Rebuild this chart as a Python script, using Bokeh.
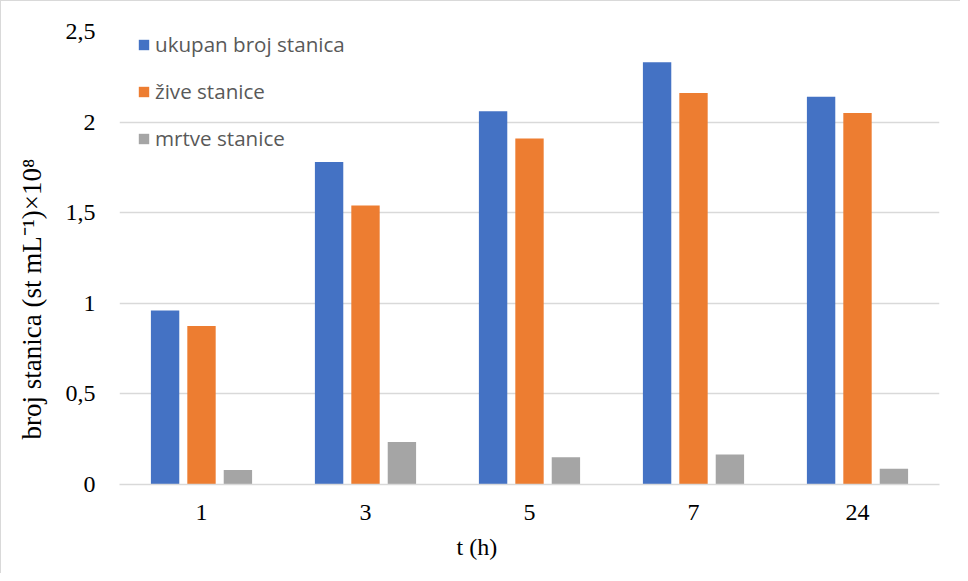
from bokeh.plotting import figure
from bokeh.models import ColumnDataSource, FactorRange, Range1d, FixedTicker, Legend, LegendItem, Title
from bokeh.transform import dodge
from bokeh.embed import file_html
from bokeh.resources import INLINE

# data
categories = ["1", "3", "5", "7", "24"]
ukupan = [0.96, 1.78, 2.06, 2.33, 2.14]
zive = [0.875, 1.54, 1.91, 2.16, 2.05]
mrtve = [0.08, 0.235, 0.15, 0.165, 0.087]
series_names = ["ukupan broj stanica", "žive stanice", "mrtve stanice"]
y_ticks = [0, 0.5, 1, 1.5, 2, 2.5]
y_tick_labels = ["0", "0,5", "1", "1,5", "2", "2,5"]
x_title = "t (h)"
y_title = "broj stanica (st mL\u207b\u00b9)\u00d710\u2078"

colors = ["#4472C4", "#ED7D31", "#A5A5A5"]

src = ColumnDataSource(dict(t=categories, ukupan=ukupan, zive=zive, mrtve=mrtve))

p = figure(width=960, height=573, output_backend="svg", toolbar_location=None,
           x_range=FactorRange(*categories), y_range=Range1d(0, 2.5),
           min_border_left=118, min_border_right=22, min_border_top=30, min_border_bottom=90)
p.title.visible = False
p.background_fill_color = "white"
p.border_fill_color = "white"
p.outline_line_color = None
p.styles = {"border-top": "1px solid #d9d9d9", "border-left": "1px solid #d9d9d9"}

offs = [-0.222, 0.0, 0.222]
keys = ["ukupan", "zive", "mrtve"]
renderers = []
for k, o, c in zip(keys, offs, colors):
    r = p.vbar(x=dodge("t", o, range=p.x_range), top=k, width=0.173, source=src,
               fill_color=c, line_color=None)
    renderers.append(r)

legend = Legend(items=[LegendItem(label=n, renderers=[r]) for n, r in zip(series_names, renderers)],
                location=(18, 332), orientation="vertical")
legend.background_fill_alpha = 0
legend.border_line_color = None
legend.padding = 0
legend.margin = 0
legend.spacing = 19
legend.glyph_width = 13
legend.glyph_height = 13
legend.label_standoff = 5
legend.label_text_font = "Open Sans"
legend.label_text_font_size = "20.6px"
legend.label_text_color = "#595959"
p.add_layout(legend)

# grid
p.xgrid.grid_line_color = None
p.ygrid.ticker = FixedTicker(ticks=y_ticks)
p.ygrid.grid_line_color = "#d9d9d9"
p.ygrid.grid_line_width = 1.5

# y axis
p.yaxis.ticker = FixedTicker(ticks=y_ticks)
p.yaxis.major_label_overrides = {t: l for t, l in zip(y_ticks, y_tick_labels)}
p.yaxis.axis_line_color = None
p.yaxis.major_tick_line_color = None
p.yaxis.minor_tick_line_color = None
p.yaxis.major_label_text_font = "Liberation Serif"
p.yaxis.major_label_text_font_size = "24px"
p.yaxis.major_label_text_color = "#000000"
p.yaxis.major_label_standoff = 18

# x axis
p.xaxis.axis_line_color = "#d9d9d9"
p.xaxis.axis_line_width = 1.5
p.xaxis.major_tick_line_color = None
p.xaxis.minor_tick_line_color = None
p.xaxis.major_label_text_font = "Liberation Serif"
p.xaxis.major_label_text_font_size = "24px"
p.xaxis.major_label_text_color = "#000000"
p.xaxis.major_label_standoff = 14

# axis titles (positioned like the original chart)
xt = Title(text=x_title, align="left", offset=337, standoff=18,
           vertical_align="bottom",
           text_font="Liberation Serif", text_font_size="24px",
           text_font_style="normal", text_color="#000000")
p.add_layout(xt, "below")
yt = Title(text=y_title, align="left", offset=45, standoff=28,
           vertical_align="top",
           text_font="Liberation Serif", text_font_size="27px",
           text_font_style="normal", text_color="#000000")
p.add_layout(yt, "left")

open("out.html", "w").write(file_html(p, INLINE))
